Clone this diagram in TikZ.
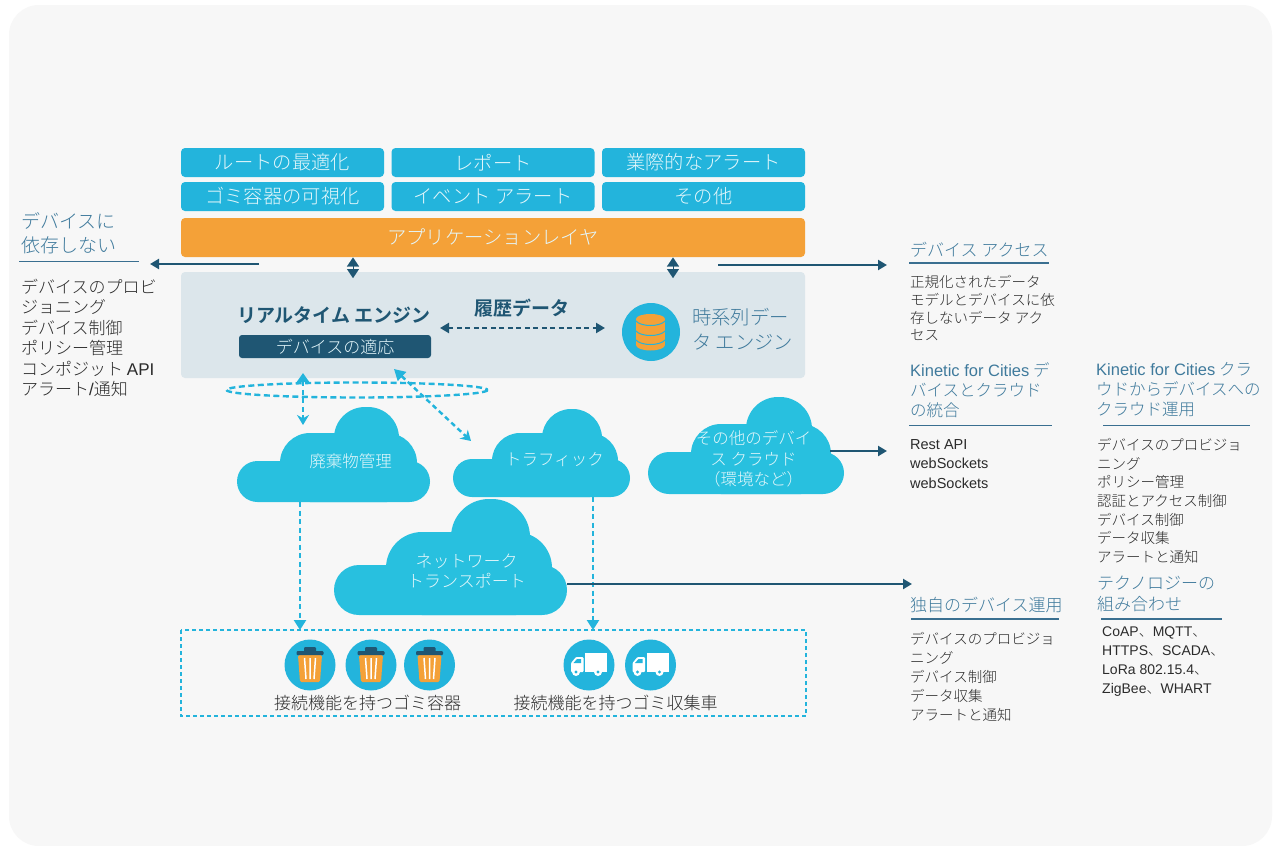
\documentclass[tikz,border=0pt]{standalone}
\usepackage{fontspec}
\setmainfont{Noto Sans CJK JP Light}[BoldFont={Noto Sans CJK JP Bold}]
\newfontfamily\latfont{Liberation Sans}
\newcommand{\latn}[1]{{\latfont #1}}
\usetikzlibrary{arrows.meta}
\definecolor{bgc}{HTML}{F7F7F7}
\definecolor{boxc}{HTML}{23B4DC}
\definecolor{cloudc}{HTML}{28C0DF}
\definecolor{orangec}{HTML}{F4A138}
\definecolor{darkc}{HTML}{1F5673}
\definecolor{panelc}{HTML}{DCE6EB}
\definecolor{headc}{HTML}{3F7A9C}
\definecolor{rulec}{HTML}{3A6F90}
\definecolor{bodyc}{HTML}{2B2B2B}
\definecolor{lightc}{HTML}{E4F7FB}
\newcommand{\fs}[2]{\fontsize{#1}{#2}\selectfont}
\tikzset{
  appbox/.style={fill=boxc,rounded corners=4pt,minimum width=203pt,minimum height=29pt,inner sep=0pt,text=lightc,font=\fs{19.3}{23}},
  cloudpart/.style={fill=cloudc},
  cloudtext/.style={text=lightc,align=center,inner sep=0pt},
  headtext/.style={anchor=north west,inner sep=0pt,align=left,text=headc,font=\fs{16.5}{20}},
  bodytext/.style={anchor=north west,inner sep=0pt,align=left,text=bodyc},
  rulehead/.style={draw=rulec,line width=1.2pt},
  solidarrow/.style={draw=darkc,line width=2.5pt,-{Triangle[length=9pt,width=10pt]}},
  updown/.style={draw=darkc,line width=0.1pt,{Triangle[length=9pt,width=12pt]}-{Triangle[length=9pt,width=12pt]}},
  dashcyan/.style={draw=boxc,line width=2.4pt,dash pattern=on 5pt off 3.5pt},
  dashdark/.style={draw=darkc,line width=2.4pt,dash pattern=on 5pt off 3.5pt},
  trash/.pic={
    \fill[boxc] (0,0) circle (25.5);
    \fill[orangec,rounded corners=1.5pt] (-12,-10) -- (12,-10) -- (10,17) -- (-10,17) -- cycle;
    \fill[darkc,rounded corners=1pt] (-6,-18) rectangle (6,-12);
    \fill[darkc,rounded corners=1pt] (-13.5,-14) rectangle (13.5,-10);
    \draw[white,line width=1.5pt] (-5.5,-7) -- (-4,14) (0,-7) -- (0,14) (5.5,-7) -- (4,14);
  },
  truck/.pic={
    \fill[boxc] (0,0) circle (25.5);
    \fill[white] (-4,-12) rectangle (18,7);
    \fill[white,rounded corners=1pt] (-18,7) -- (-18,-2) -- (-13,-8) -- (-5.5,-8) -- (-5.5,7) -- cycle;
    \fill[boxc] (-15.5,-2) -- (-12,-6) -- (-8,-6) -- (-8,-2) -- cycle;
    \foreach \wx in {-13,9}{
      \fill[white] (\wx,7) circle (4);
      \fill[boxc] (\wx,7) circle (1.6);
    }
  },
}
\begin{document}
\begin{tikzpicture}[x=1pt,y=-1pt]
\useasboundingbox (0,0) rectangle (1278,846);
\fill[white] (0,0) rectangle (1278,846);
\fill[bgc,rounded corners=30pt] (9,5) rectangle (1272,846);

% application boxes
\node[appbox] (b1) at (282.5,162.5) {ルートの最適化};
\node[appbox] (b2) at (493,162.5) {レポート};
\node[appbox] (b3) at (703.5,162.5) {業際的なアラート};
\node[appbox] (b4) at (282.5,196.5) {ゴミ容器の可視化};
\node[appbox] (b5) at (493,196.5) {イベント アラート};
\node[appbox] (b6) at (703.5,196.5) {その他};
\node[fill=orangec,rounded corners=4pt,minimum width=624pt,minimum height=39pt,inner sep=0pt,text=lightc,font=\fs{19.3}{23}] (app) at (493,237.5) {アプリケーションレイヤ};

% engine panel
\node[fill=panelc,rounded corners=4pt,minimum width=624pt,minimum height=106pt,inner sep=0pt] (panel) at (493,325) {};
\node[inner sep=0pt,text=darkc,font=\fs{19}{22}\bfseries] (rt) at (334,315) {リアルタイム エンジン};
\node[fill=darkc,rounded corners=3pt,minimum width=192pt,minimum height=23pt,inner sep=0pt,text=lightc,font=\fs{17}{20}] (adapt) at (335,346.5) {デバイスの適応};
\node[inner sep=0pt,text=darkc,font=\fs{19}{23}\bfseries] (hist) at (521.5,308) {履歴データ};
\fill[boxc] (651,332) circle (29);
\fill[orangec] (650.5,319) ellipse [x radius=14.5,y radius=5];
\fill[orangec] (636,319) rectangle (665,345);
\fill[orangec] (650.5,345) ellipse [x radius=14.5,y radius=5.5];
\foreach \yy in {321,331,340}{
  \draw[boxc,line width=1pt] (636,\yy) .. controls (641,\yy+6) and (660,\yy+6) .. (665,\yy);
}
\node[inner sep=0pt,anchor=north west,align=left,text=headc,font=\fs{19.3}{25}] (tsdb) at (692,308) {時系列デー\\タ エンジン};

% solid and up/down arrows
\coordinate (u1a) at (353,257.5);
\coordinate (u1b) at (353,278);
\coordinate (u2a) at (673,257.5);
\coordinate (u2b) at (673,278);
\draw[updown] (u1a) -- (u1b);
\draw[updown] (u2a) -- (u2b);
\coordinate (la) at (259,264);
\coordinate (lb) at (150,264);
\draw[solidarrow] (la) -- (lb);
\coordinate (ra) at (718,265);
\coordinate (rb) at (887,265);
\draw[solidarrow] (ra) -- (rb);
\coordinate (ha) at (440,328);
\coordinate (hb) at (605,328);
\draw[dashdark,{Triangle[length=9pt,width=10pt]}-{Triangle[length=9pt,width=10pt]}] (ha) -- (hb);

% clouds
\fill[cloudpart,rounded corners=31pt] (334,407) rectangle (399,480);
\fill[cloudpart,rounded corners=30pt] (280,433) rectangle (417,502);
\fill[cloudpart,rounded corners=20.5pt] (237,461) rectangle (430,502);
\node[cloudtext,font=\fs{16.5}{20}] (waste) at (350.5,461) {廃棄物管理};
\fill[cloudpart,rounded corners=29pt] (542,409) rectangle (602,480);
\fill[cloudpart,rounded corners=28pt] (492,433) rectangle (618,497);
\fill[cloudpart,rounded corners=19pt] (453,459) rectangle (630,497);
\node[cloudtext,font=\fs{16.5}{20}] (traffic) at (554.5,460) {トラフィック};
\fill[cloudpart,rounded corners=32pt] (746,397) rectangle (812,470);
\fill[cloudpart,rounded corners=30pt] (691,424) rectangle (831,494);
\fill[cloudpart,rounded corners=21pt] (648,452) rectangle (844,494);
\node[cloudtext,font=\fs{16.5}{20.5}] (other) at (753.5,459) {その他のデバイ\\ス クラウド\\（環境など）};
\fill[cloudpart,rounded corners=38pt] (451,499) rectangle (530,590);
\fill[cloudpart,rounded corners=36pt] (386,532) rectangle (552,615);
\fill[cloudpart,rounded corners=25pt] (334,565) rectangle (567,615);
\node[cloudtext,font=\fs{17}{20.5}] (net) at (466.5,571) {ネットワーク\\トランスポート};

% dashed connectors
\draw[dashcyan,dash pattern=on 6pt off 3.5pt] (357,390) ellipse [x radius=130.5,y radius=7.5];
\coordinate (w1) at (303,373);
\coordinate (w2) at (303,425);
\coordinate (t1) at (394,369);
\coordinate (t2) at (471,441);
\coordinate (w3) at (300,502);
\coordinate (w4) at (300,630);
\coordinate (t3) at (593,497);
\coordinate (t4) at (593,630);
\draw[dashcyan,{Triangle[length=9pt,width=12pt]}-{Stealth[length=10pt,width=12pt]}] (w1) -- (w2);
\draw[dashcyan,{Triangle[length=11pt,width=12pt]}-{Stealth[length=10pt,width=12pt]}] (t1) -- (t2);
\draw[dashcyan,-{Triangle[length=10pt,width=12pt]}] (w3) -- (w4);
\draw[dashcyan,-{Triangle[length=10pt,width=12pt]}] (t3) -- (t4);
\draw[dashcyan,dash pattern=on 4pt off 3pt] (181,630) rectangle (806,716);

% solid connectors from the clouds
\coordinate (c1) at (830,451);
\coordinate (c2) at (887,451);
\draw[solidarrow] (c1) -- (c2);
\coordinate (n1) at (567,584);
\coordinate (n2) at (912,584);
\draw[solidarrow] (n1) -- (n2);

% icons
\pic at (310,665) {trash};
\pic at (371,665) {trash};
\pic at (429.5,665) {trash};
\pic at (589,665) {truck};
\pic at (650.5,665) {truck};
\node[inner sep=0pt,text=bodyc,font=\fs{17}{20}] (binlabel) at (367.5,703) {接続機能を持つゴミ容器};
\node[inner sep=0pt,text=bodyc,font=\fs{17}{20}] (trucklabel) at (615.5,703) {接続機能を持つゴミ収集車};

% left column
\node[headtext,font=\fs{19}{24.5}] (h1) at (21,212) {デバイスに\\依存しない};
\draw[rulehead] (19,261.5) -- (139,261.5);
\node[bodytext,font=\fs{17}{20.5}] (t1x) at (21,278.5) {デバイスのプロビ\\ジョニング\\デバイス制御\\ポリシー管理\\コンポジット \latn{API}\\アラート\latn{/}通知};

% right columns
\node[headtext,font=\fs{17}{20}] (h2) at (910,242) {デバイス アクセス};
\draw[rulehead] (909,263) -- (1049,263);
\node[bodytext,font=\fs{14.5}{17.8}] (t2x) at (910,275) {正規化されたデータ\\モデルとデバイスに依\\存しないデータ アク\\セス};
\node[headtext] (h3) at (910,362) {\latn{Kinetic for Cities} デ\\バイスとクラウド\\の統合};
\draw[rulehead] (909,425.5) -- (1052,425.5);
\node[bodytext,font=\fs{14.5}{19.5}] (t3x) at (910,439) {\latn{Rest API}\\\latn{webSockets}\\\latn{webSockets}};
\node[headtext] (h4) at (1096,362) {\latn{Kinetic for Cities} クラ\\ウドからデバイスへの\\クラウド運用};
\draw[rulehead] (1103,425.5) -- (1250,425.5);
\node[bodytext,font=\fs{14.5}{18.7}] (t4x) at (1097,438) {デバイスのプロビジョ\\ニング\\ポリシー管理\\認証とアクセス制御\\デバイス制御\\データ収集\\アラートと通知};
\node[headtext,font=\fs{17}{21}] (h5) at (1097,576) {テクノロジーの\\組み合わせ};
\draw[rulehead] (1101,619) -- (1222,619);
\node[bodytext,font=\fs{14}{19}] (t5x) at (1102,627) {\latn{CoAP}、\latn{MQTT}、\\\latn{HTTPS}、\latn{SCADA}、\\\latn{LoRa 802.15.4}、\\\latn{ZigBee}、\latn{WHART}};
\node[headtext,font=\fs{17}{20}] (h6) at (910,597) {独自のデバイス運用};
\draw[rulehead] (911,619) -- (1059,619);
\node[bodytext,font=\fs{14.5}{19}] (t6x) at (910,632) {デバイスのプロビジョ\\ニング\\デバイス制御\\データ収集\\アラートと通知};
\end{tikzpicture}
\end{document}
